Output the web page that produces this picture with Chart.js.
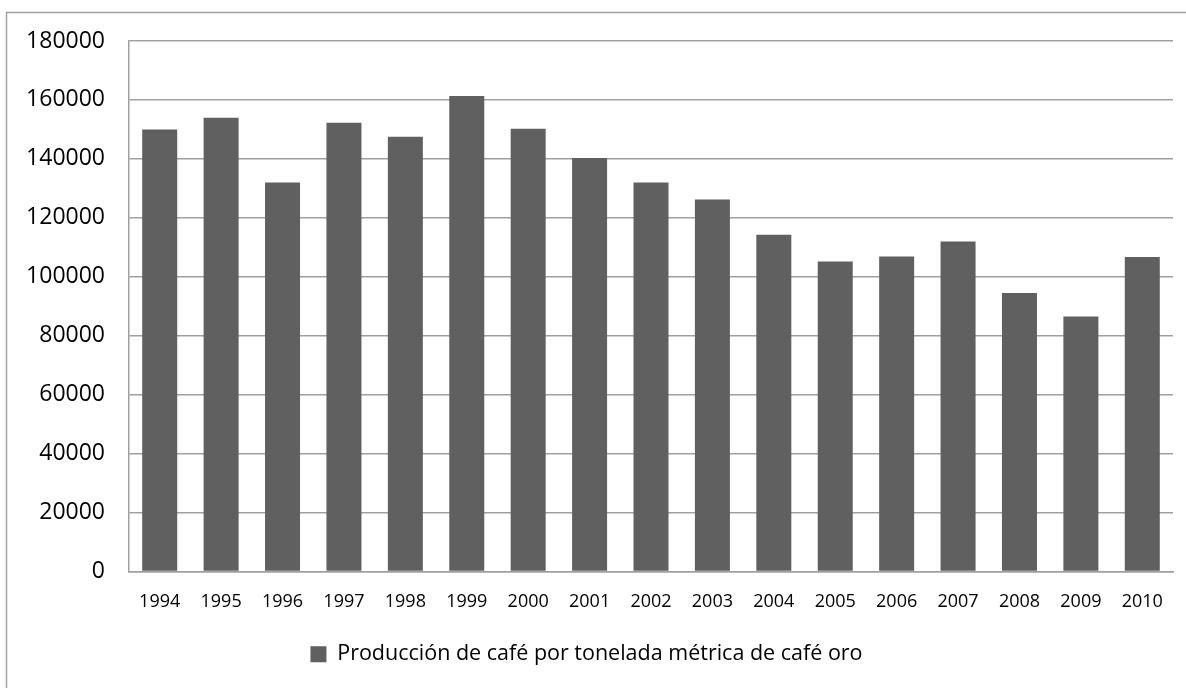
<!DOCTYPE html>
<html>
<head>
<meta charset="utf-8">
<script src="https://cdn.jsdelivr.net/npm/chart.js@4/dist/chart.umd.min.js"></script>
<style>
	body { margin: 0; background: #fff; }
	#wrap { width: 1186px; height: 688px; position: relative; }
</style>
</head>
<body>
<div id="wrap"><canvas id="cafe"></canvas></div>
<script>
var years = ["1994","1995","1996","1997","1998","1999","2000","2001","2002","2003","2004","2005","2006","2007","2008","2009","2010"];
var produccion = [150000,154000,132000,152300,147500,161300,150200,140300,132000,126200,114300,105200,106900,112000,94500,86500,106700];
var serie_nombre = "Producción de café por tonelada métrica de café oro";

var marco = {
	id: "marco",
	beforeDraw: function (chart) {
		var ctx = chart.ctx;
		ctx.save();
		ctx.strokeStyle = "#a0a0a0";
		ctx.lineWidth = 1.5;
		ctx.strokeRect(6.5, 12.5, 1400, 900);
		ctx.restore();
	}
};

new Chart(document.getElementById("cafe"), {
	type: 'bar',
	data: {
		labels: years,
		datasets: [{
			label: serie_nombre,
			data: produccion,
			backgroundColor: '#606060',
			borderWidth: 0,
			categoryPercentage: 1,
			barPercentage: 0.57
		}]
	},
	plugins: [marco],
	options: {
		responsive: true,
		maintainAspectRatio: false,
		animation: false,
		layout: { padding: { left: 0, right: 13, top: 41, bottom: 13 } },
		plugins: {
			tooltip: { enabled: false },
			legend: {
				position: 'bottom',
				labels: {
					boxWidth: 16,
					boxHeight: 16,
					color: '#000',
					font: { family: 'Open Sans', size: 21.5 }
				}
			}
		},
		scales: {
			x: {
				grid: { display: false, drawTicks: false },
				border: { color: '#a0a0a0', width: 1.5 },
				ticks: { color: '#000', padding: 20, maxRotation: 0, font: { family: 'Open Sans', size: 18 } },
				afterFit: function (s) { s.height = 62; }
			},
			y: {
				min: 0,
				max: 180000,
				grid: { color: '#a0a0a0', lineWidth: 1.5, drawTicks: false },
				border: { color: '#a0a0a0', width: 1.5 },
				ticks: {
					stepSize: 20000,
					color: '#000',
					padding: 24,
					font: { family: 'Open Sans', size: 23 },
					callback: function (v) { return String(v); }
				},
				afterFit: function (s) { s.width = 129; }
			}
		}
	}
});
</script>
</body>
</html>
